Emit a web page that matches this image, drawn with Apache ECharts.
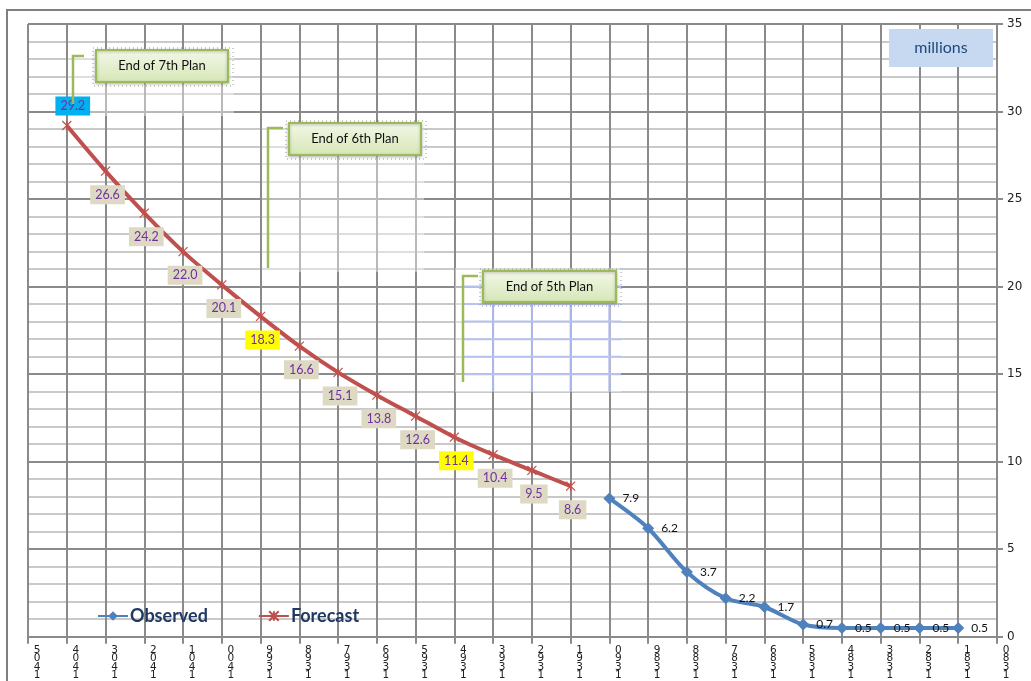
<!DOCTYPE html>
<html>
<head>
<meta charset="utf-8">
<script src="https://cdn.jsdelivr.net/npm/echarts@6/dist/echarts.min.js"></script>
<style>
  html, body { margin: 0; padding: 0; background: #fff; }
  #chart { width: 1031px; height: 681px; }
</style>
</head>
<body>
<div id="chart"></div>
<script>
// Solar Hijri years, newest on the left
const years = ['1405','1404','1403','1402','1401','1400','1399','1398','1397','1396','1395','1394','1393',
  '1392','1391','1390','1389','1388','1387','1386','1385','1384','1383','1382','1381','1380'];

// Forecast values, 1404 .. 1391
const forecastYears = ['1404','1403','1402','1401','1400','1399','1398','1397','1396','1395','1394','1393','1392','1391'];
const forecastValues = [29.2, 26.6, 24.2, 22.0, 20.1, 18.3, 16.6, 15.1, 13.8, 12.6, 11.4, 10.4, 9.5, 8.6];

// Observed values, 1390 .. 1381
const observedYears = ['1390','1389','1388','1387','1386','1385','1384','1383','1382','1381'];
const observedValues = [7.9, 6.2, 3.7, 2.2, 1.7, 0.7, 0.5, 0.5, 0.5, 0.5];

const yTicks = [0, 5, 10, 15, 20, 25, 30, 35];

const highlightYears = { '1404': '#00B0F0', '1399': '#FFFF00', '1394': '#FFFF00' };

const FONT = 'Lato, "Open Sans", sans-serif';
const GRID_DARK = '#8a8a8a';
const GRID_LIGHT = '#c9c9c9';

function seriesData(keys, vals) {
  return years.map(y => {
    const i = keys.indexOf(y);
    return i < 0 ? null : vals[i];
  });
}

const forecastData = seriesData(forecastYears, forecastValues).map((v, i) => {
  if (v === null) return null;
  const y = years[i];
  const item = { value: v };
  if (highlightYears[y]) {
    item.label = { backgroundColor: highlightYears[y] };
  }
  if (y === '1404') {
    item.label.position = 'top';
    item.label.distance = 5;
    item.label.offset = [6, 0];
  }
  return item;
});
const observedData = seriesData(observedYears, observedValues);

const starPath = 'path://M0,0L10,10M10,0L0,10M5,0L5,10';

const chart = echarts.init(document.getElementById('chart'), null, { renderer: 'canvas' });

chart.setOption({
  backgroundColor: '#ffffff',
  animation: false,
  grid: { left: 28, right: 34, top: 24, bottom: 42, containLabel: false },
  legend: {
    left: 92, top: 602,
    itemWidth: 30, itemHeight: 12, itemGap: 50,
    textStyle: { fontFamily: FONT, fontWeight: 'bold', fontSize: 18, color: '#1F3864', padding: [0, 0, 0, -3] },
    data: ['Observed', 'Forecast']
  },
  xAxis: {
    type: 'category',
    data: years,
    boundaryGap: false,
    axisLine: { lineStyle: { color: GRID_DARK, width: 2 } },
    axisTick: { show: true, length: 7, interval: 0, lineStyle: { color: GRID_DARK, width: 2 } },
    axisLabel: {
      interval: 0,
      margin: 9,
      fontFamily: '"DejaVu Sans", sans-serif',
      fontSize: 10.5,
      lineHeight: 8.5,
      color: '#222',
      padding: [0, 0, 0, 18],
      formatter: v => v.split('').reverse().join('\n')
    },
    splitLine: { show: true, interval: 0, lineStyle: { color: GRID_DARK, width: 2 } }
  },
  yAxis: {
    type: 'value',
    position: 'right',
    min: 0, max: 35, interval: 5,
    axisLine: { show: true, lineStyle: { color: GRID_DARK, width: 2 } },
    axisTick: { show: true, length: 6, lineStyle: { color: GRID_DARK, width: 2 } },
    axisLabel: {
      margin: 10, fontFamily: '"DejaVu Sans", sans-serif', fontSize: 12, color: '#222',
      formatter: v => (yTicks.indexOf(v) >= 0 ? String(v) : '')
    },
    splitLine: { show: true, lineStyle: { color: GRID_DARK, width: 2 } },
    minorTick: { show: false, splitNumber: 5 },
    minorSplitLine: { show: true, lineStyle: { color: GRID_LIGHT, width: 2 } }
  },
  series: [
    {
      name: 'Observed',
      type: 'line',
      data: observedData,
      smooth: 0.3,
      symbol: 'diamond',
      symbolSize: 12,
      lineStyle: { color: '#4F81BD', width: 4 },
      itemStyle: { color: '#4F81BD' },
      label: {
        show: true, position: 'right', distance: 7,
        fontFamily: FONT, fontSize: 12, color: '#111',
        formatter: p => p.value.toFixed(1)
      },
      z: 3
    },
    {
      name: 'Forecast',
      type: 'line',
      data: forecastData,
      smooth: 0.3,
      symbol: starPath,
      symbolSize: 9,
      lineStyle: { color: '#C0504D', width: 4 },
      itemStyle: { color: '#C0504D', borderColor: '#C0504D', borderWidth: 1.2 },
      label: {
        show: true, position: 'bottom', distance: 9, offset: [2, 0],
        fontFamily: FONT, fontSize: 12.5, color: '#7030A0',
        backgroundColor: '#DDD9C3', padding: [3, 5, 3, 5],
        formatter: p => (typeof p.value === 'number' ? p.value : p.value.value).toFixed(1)
      },
      z: 4
    }
  ]
});

// Plan annotations: translucent panels, callout boxes and bracket connectors
const plans = [
  { text: 'End of 7th Plan', panel: [68, 50, 166, 66], box: [96, 50, 132, 32], bracket: [[84, 56], [73, 56], [73, 104]], blue: false },
  { text: 'End of 6th Plan', panel: [262, 122, 162, 150], box: [289, 123, 132, 32], bracket: [[283, 128], [268, 128], [268, 268]], blue: false },
  { text: 'End of 5th Plan', panel: [455, 268, 166, 124], box: [483, 271, 133, 31], bracket: [[478, 276], [463, 276], [463, 382]], blue: true }
];

const g = [];
g.push({
  type: 'rect', shape: { x: 7, y: 10, width: 1100, height: 1000 },
  style: { fill: 'none', stroke: '#7f7f7f', lineWidth: 2 }, z: 1
});

plans.forEach(p => {
  const [px, py, pw, ph] = p.panel;
  g.push({
    type: 'rect', shape: { x: px, y: py, width: pw, height: ph },
    style: { fill: 'rgba(255,255,255,0.4)' }, z: 1
  });
  if (p.blue) {
    // bluish grid inside the panel
    for (let i = 0; i < years.length; i++) {
      const x = chart.convertToPixel({ xAxisIndex: 0 }, years[i]);
      if (x > px + 2 && x < px + pw - 2) {
        g.push({ type: 'line', shape: { x1: x, y1: py + 34, x2: x, y2: py + ph }, style: { stroke: '#aab6ee', lineWidth: 2 }, z: 1 });
      }
    }
    for (let v = 0; v <= 35; v++) {
      const y = chart.convertToPixel({ yAxisIndex: 0 }, v);
      if (y > py + 4 && y < py + ph - 2) {
        g.push({ type: 'line', shape: { x1: px + 8, y1: y, x2: px + pw, y2: y }, style: { stroke: '#b8c2f0', lineWidth: 2 }, z: 1 });
      }
    }
  }
  const [bx, by, bw, bh] = p.box;
  g.push({
    type: 'rect', shape: { x: bx - 3, y: by - 2, width: bw + 8, height: bh + 6 },
    style: { fill: 'none', stroke: '#999', lineWidth: 1, lineDash: [1, 3] }, z: 7
  });
  g.push({
    type: 'polyline', shape: { points: p.bracket },
    style: { fill: 'none', stroke: '#9BBB59', lineWidth: 2.5 }, z: 8
  });
  g.push({
    type: 'rect', shape: { x: bx, y: by, width: bw, height: bh },
    style: {
      fill: new echarts.graphic.LinearGradient(0, 0, 0, 1, [
        { offset: 0, color: '#F3F8E8' }, { offset: 1, color: '#D6E6B6' }
      ]),
      stroke: '#9BBB59', lineWidth: 2,
      shadowBlur: 3, shadowColor: 'rgba(0,0,0,0.25)', shadowOffsetY: 1
    }, z: 9
  });
  g.push({
    type: 'text', x: bx + bw / 2, y: by + bh / 2,
    style: { text: p.text, fontFamily: FONT, fontSize: 13, fill: '#111', align: 'center', verticalAlign: 'middle' },
    z: 10
  });
});

// Units tag
g.push({ type: 'rect', shape: { x: 889, y: 29, width: 104, height: 38 }, style: { fill: '#C6D9F1' }, z: 9 });
g.push({
  type: 'text', x: 941, y: 48,
  style: { text: 'millions', fontFamily: FONT, fontSize: 16, fill: '#1F497D', align: 'center', verticalAlign: 'middle' },
  z: 10
});

chart.setOption({ graphic: g });
</script>
</body>
</html>
